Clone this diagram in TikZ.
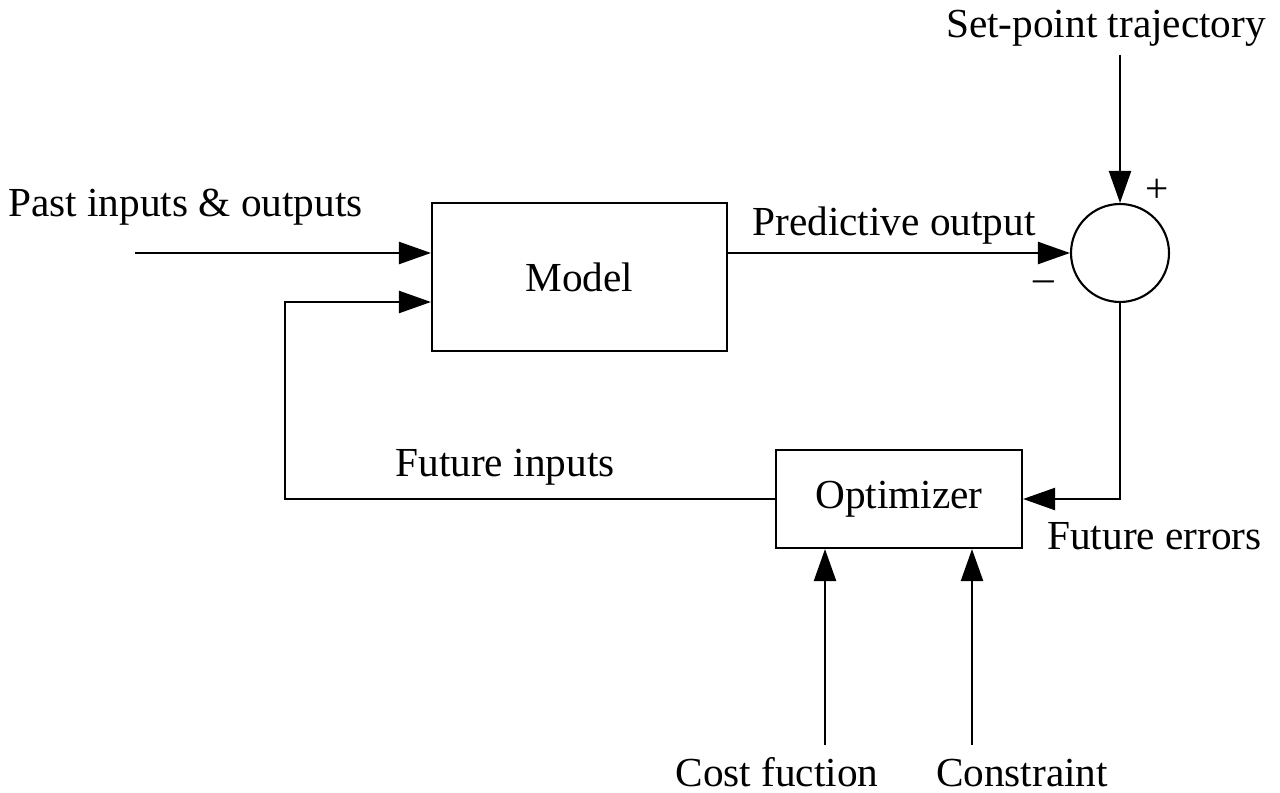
\documentclass[tikz,border=0pt]{standalone}
\usepackage{fontspec}
\setmainfont{Liberation Serif}
\usetikzlibrary{arrows.meta}
\begin{document}
\begin{tikzpicture}[x=0.02cm,y=-0.02cm,
  every node/.style={font=\fontsize{23.5}{27}\selectfont},
  blk/.style={draw,line width=1.2pt,inner sep=0pt},
  arr/.style={line width=1.3pt,-{Triangle[length=0.64cm,width=0.44cm]}},
  lbl/.style={anchor=base,inner sep=0pt}]
\useasboundingbox (0,0) rectangle (1280,793);
\node[blk,minimum width=5.9cm,minimum height=2.96cm] (model) at (579.5,277) {Model};
\node[blk,minimum width=4.92cm,minimum height=1.96cm] (opt) at (899,499) {Optimizer};
\node[blk,circle,minimum size=1.96cm] (sum) at (1120,253) {};
\coordinate (pin) at (135,253);
\coordinate (fb) at (285,302);
\coordinate (sp) at (1120,55);
\coordinate (cf) at (825,745);
\coordinate (cs) at (972,745);
\draw[arr] (pin) -- (model.west |- pin);
\draw[arr] (opt.west) -| (fb) -- (model.west |- fb);
\draw[arr] (model.east |- sum.west) -- (sum.west);
\draw[arr] (sp) -- (sum.north);
\draw[arr] (sum.south) |- (opt.east);
\draw[arr] (cf) -- (cf |- opt.south);
\draw[arr] (cs) -- (cs |- opt.south);
\node[lbl] (tsp) at (1106,38) {Set-point trajectory};
\node[lbl,anchor=base west] (tpast) at (8,217) {Past inputs \& outputs};
\node[lbl] (tpred) at (894,236) {Predictive output};
\node[lbl] (tplus) at (1157,203) {+};
\node[lbl] (tminus) at (1044,292) {\textendash};
\node[lbl] (tfi) at (505,476) {Future inputs};
\node[lbl,anchor=base west] (tfe) at (1047,549) {Future errors};
\node[lbl] (tcf) at (777,786) {Cost fuction};
\node[lbl] (tcs) at (1022,786) {Constraint};
\end{tikzpicture}
\end{document}
